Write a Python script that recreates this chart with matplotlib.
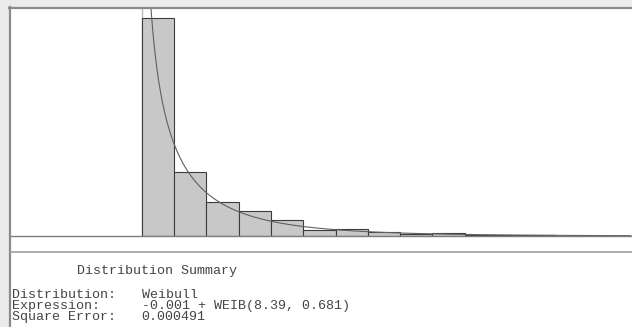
import numpy as np
import matplotlib
matplotlib.use("Agg")
import matplotlib.pyplot as plt
from matplotlib.patches import Rectangle
from matplotlib.lines import Line2D

# histogram (relative frequency per interval)
bin_edges = [0, 7, 14, 21, 28, 35, 42, 49, 56, 63, 70, 77, 84, 89.5]
rel_freq = [0.587, 0.172, 0.091, 0.067, 0.044, 0.0175, 0.0197, 0.011,
            0.0062, 0.0073, 0.0035, 0.003, 0.003]

# fitted distribution as printed in the summary
dist_name = "Weibull"
offset, scale, shape = -0.001, 8.39, 0.681
sq_error = "0.000491"

W, H = 632, 327


def fx(x):
    return x / W


def fy(y):
    return 1 - y / H


fig = plt.figure(figsize=(W / 100, H / 100), dpi=100, facecolor='#ebebeb')

# white panel + borders
fig.patches.append(Rectangle((fx(10), 0), 1 - fx(10), fy(8), transform=fig.transFigure,
                             facecolor='white', edgecolor='none', zorder=-5))
fig.add_artist(Line2D([fx(9.5), fx(9.5)], [0, fy(7)], color='#8a8a8a', lw=1.6))
fig.add_artist(Line2D([fx(9), 1], [fy(8), fy(8)], color='#8a8a8a', lw=1.6))
fig.add_artist(Line2D([fx(11), 1], [fy(246), fy(246)], color='#f1f1f1', lw=0.7, ls=(0, (1, 3))))
fig.add_artist(Line2D([fx(11), 1], [fy(251.5), fy(251.5)], color='#a6a6a6', lw=1.3))

ax = fig.add_axes([fx(11), fy(236), fx(632) - fx(11), fy(9) - fy(236)])
ax.set_axis_off()
ax.set_xlim(-28.33, 106.26)
ax.set_ylim(0, 0.612)

edges = np.array(bin_edges)
ax.axvline(edges[0], color='#b8b8b8', lw=1, zorder=1)
ax.bar(edges[:-1], rel_freq, width=np.diff(edges), align='edge',
       color='#c8c8c8', edgecolor='#3c3c3c', linewidth=0.8, zorder=2)

# density curve scaled to the interval width
w = edges[1] - edges[0]
x = np.linspace(0.05, 106, 1500)
z = (x - offset) / scale
pdf = (shape / scale) * z ** (shape - 1) * np.exp(-z ** shape)
ax.plot(x, w * pdf, color='#606060', lw=0.8, zorder=3)
ax.axhline(0, color='#7c7c7c', lw=1.0, zorder=4, clip_on=False)

mono = dict(family='Liberation Mono', size=9.6, color='#444444', va='center')
fig.text(fx(77), fy(271), 'Distribution Summary', **mono)
fig.text(fx(12), fy(295), 'Distribution:', **mono)
fig.text(fx(12), fy(306), 'Expression:', **mono)
fig.text(fx(12), fy(317), 'Square Error:', **mono)
fig.text(fx(141.5), fy(295), dist_name, **mono)
fig.text(fx(141.5), fy(306), '%.3f + WEIB(%.2f, %.3f)' % (offset, scale, shape), **mono)
fig.text(fx(141.5), fy(317), sq_error, **mono)

fig.savefig('out.png', dpi=100, facecolor=fig.get_facecolor())
